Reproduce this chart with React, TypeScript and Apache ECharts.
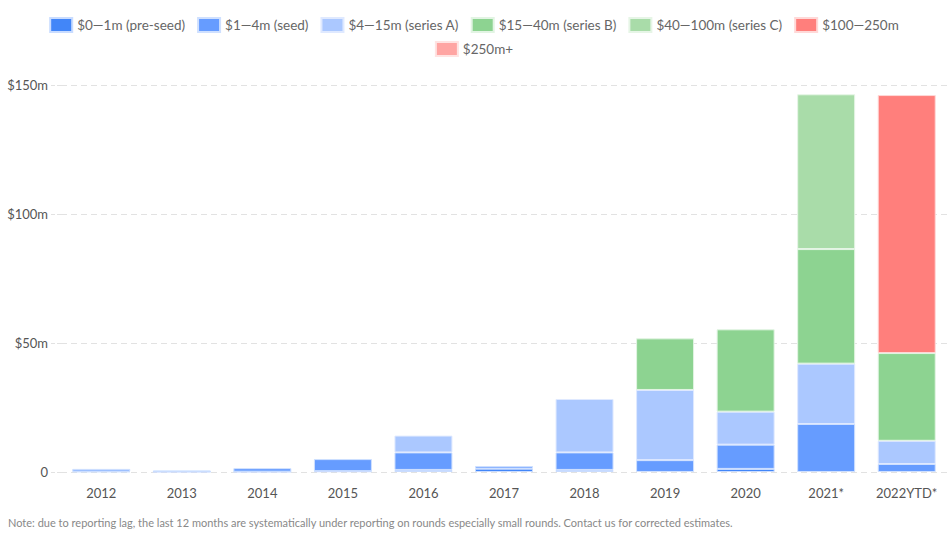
import React, { useEffect, useRef } from "react";
import * as echarts from "echarts";

const categories = ["2012", "2013", "2014", "2015", "2016", "2017", "2018", "2019", "2020", "2021*", "2022YTD*"];
const seriesNames = [
  "$0\u20141m (pre-seed)",
  "$1\u20144m (seed)",
  "$4\u201415m (series A)",
  "$15\u201440m (series B)",
  "$40\u2014100m (series C)",
  "$100\u2014250m",
  "$250m+",
];
const preSeed = [0.2, 0.1, 0.1, 0.3, 0.8, 1.3, 0.8, 0, 1.2, 0, 0];
const seed = [1.0, 0.5, 1.4, 4.7, 6.8, 1.0, 6.8, 4.6, 9.4, 18.6, 3.1];
const seriesA = [0, 0, 0, 0, 6.5, 0, 20.7, 27.2, 12.8, 23.4, 9.0];
const seriesB = [0, 0, 0, 0, 0, 0, 0, 20.0, 31.9, 44.4, 34.0];
const seriesC = [0, 0, 0, 0, 0, 0, 0, 0, 0, 60.0, 0];
const range100to250 = [0, 0, 0, 0, 0, 0, 0, 0, 0, 0, 100.0];
const range250plus = [0, 0, 0, 0, 0, 0, 0, 0, 0, 0, 0];
const colors = ["#4286f8", "#669cff", "#abc8ff", "#8dd391", "#a9dca9", "#ff7f7c", "#ffa5a3"];
const borderColors = ["#c9dcff", "#cfe0ff", "#dfe9ff", "#e2f4e3", "#e6f5e6", "#ffd9d8", "#ffe3e2"];
const yTicks = [0, 50, 100, 150];
const note =
  "Note: due to reporting lag, the last 12 months are systematically under reporting on rounds especially small rounds. Contact us for corrected estimates.";

const FONT = "Lato, 'Noto Sans', sans-serif";

export default function App() {
  const ref = useRef<HTMLDivElement>(null);
  useEffect(() => {
    if (!ref.current) return;
    const chart = echarts.init(ref.current, undefined, { renderer: "svg" });
    const data = [preSeed, seed, seriesA, seriesB, seriesC, range100to250, range250plus];
    const legendBase = {
      left: "center",
      icon: "rect",
      itemWidth: 22,
      itemHeight: 14,
      itemGap: 12,
      textStyle: { fontFamily: FONT, fontSize: 13.5, color: "#666" },
    };
    chart.setOption({
      animation: false,
      textStyle: { fontFamily: FONT },
      legend: [
        { ...legendBase, top: 12, data: seriesNames.slice(0, 6) },
        { ...legendBase, top: 36, data: seriesNames.slice(6) },
      ],
      grid: { left: 61, right: 1, top: 85, bottom: 69 },
      xAxis: {
        type: "category",
        data: categories,
        axisLine: { show: false },
        axisTick: { show: false },
        axisLabel: { color: "#555", fontSize: 13, margin: 14, fontFamily: FONT },
      },
      yAxis: {
        type: "value",
        min: 0,
        max: yTicks[yTicks.length - 1],
        interval: 50,
        axisLine: { show: false },
        axisTick: { show: true, length: 11, lineStyle: { color: "#e2e2e2", type: "dashed" } },
        splitLine: { lineStyle: { color: "#e2e2e2", type: [6, 4] } },
        axisLabel: {
          color: "#555",
          fontSize: 13,
          margin: 13,
          fontFamily: FONT,
          formatter: (v: number) => (v === 0 ? "0" : "$" + v + "m"),
        },
      },
      series: seriesNames.map((name, i) => ({
        name,
        type: "bar",
        stack: "total",
        barWidth: "72%",
        data: data[i].map((v) => (v === 0 ? "-" : v)),
        itemStyle: { color: colors[i], borderColor: borderColors[i], borderWidth: 1 },
      })),
      graphic: [
        {
          type: "text",
          left: 8,
          top: 517,
          style: { text: note, fill: "#888", fontSize: 11, fontFamily: FONT },
        },
      ],
    });
    return () => chart.dispose();
  }, []);
  return <div ref={ref} style={{ width: 948, height: 541, position: "absolute", left: 0, top: 0 }} />;
}
